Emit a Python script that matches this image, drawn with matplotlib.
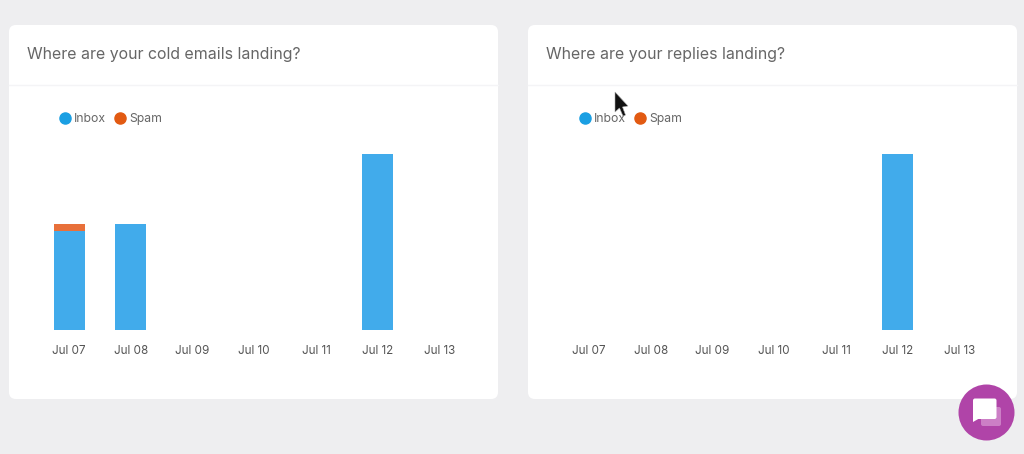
import matplotlib
matplotlib.use("Agg")
import matplotlib.pyplot as plt
from matplotlib.lines import Line2D
from matplotlib.patches import Circle, FancyBboxPatch, Polygon

plt.rcParams['font.family'] = ['Inter', 'DejaVu Sans']

days = ["Jul 07", "Jul 08", "Jul 09", "Jul 10", "Jul 11", "Jul 12", "Jul 13"]
cold_inbox = [2.8, 3.0, 0, 0, 0, 5.0, 0]
cold_spam = [0.2, 0, 0, 0, 0, 0, 0]
reply_inbox = [0, 0, 0, 0, 0, 5.0, 0]
reply_spam = [0, 0, 0, 0, 0, 0, 0]
titles = ["Where are your cold emails landing?", "Where are your replies landing?"]

W, H = 1024, 454
BAR_BLUE = "#41ABEB"
BAR_ORANGE = "#E8703A"
DOT_BLUE = "#1A9FE3"
DOT_ORANGE = "#E25A12"

fig = plt.figure(figsize=(W / 100, H / 100), dpi=100, facecolor="#EEEEF0")

# page furniture is drawn in pixel coords
bg = fig.add_axes([0, 0, 1, 1])
bg.set_xlim(0, W)
bg.set_ylim(H, 0)
bg.axis("off")


def card(x0, x1, title):
    bg.add_patch(FancyBboxPatch((x0 + 6, 31), x1 - x0 - 12, 362,
                                boxstyle="round,pad=6,rounding_size=7",
                                fc="white", ec="none", zorder=1))
    bg.plot([x0, x1], [85, 85], color="#F4F4F6", lw=1, zorder=2)
    bg.text(x0 + 18, 54.5, title, fontsize=11.45, color="#666666",
            va="center", ha="left", zorder=3)


def chart(left_px, inbox, spam):
    # about 432 px wide, baseline at y=330, top of tallest bar at y=154
    ax = fig.add_axes([(left_px + 0.25) / W, (H - 330) / H, 432 / W, 176 / H])
    ax.patch.set_alpha(0)
    ax.bar(days, inbox, width=0.5, color=BAR_BLUE)
    ax.bar(days, spam, width=0.5, bottom=inbox, color=BAR_ORANGE)
    ax.set_xlim(-0.5, 6.5)
    ax.set_ylim(0, 5)
    ax.set_yticks([])
    for s in ax.spines.values():
        s.set_visible(False)
    ax.tick_params(axis="x", length=0, pad=10.5, labelsize=8.4, labelcolor="#555555")
    handles = [
        Line2D([], [], ls="", marker="o", ms=8, color=DOT_BLUE, label="Inbox"),
        Line2D([], [], ls="", marker="o", ms=8, color=DOT_ORANGE, label="Spam"),
    ]
    ax.legend(handles=handles, loc="center left", frameon=False, ncols=2,
              bbox_to_anchor=((left_px + 15) / W, (H - 119) / H),
              bbox_transform=fig.transFigure, fontsize=8.8, labelcolor="#666666",
              handletextpad=-0.3, columnspacing=0.2, borderaxespad=0, borderpad=0)
    return ax


card(9, 498, titles[0])
card(528, 1017, titles[1])
chart(38, cold_inbox, cold_spam)
chart(558, reply_inbox, reply_spam)

# mouse pointer
bg.add_patch(Polygon([(615, 92), (615, 112), (619.5, 108), (623, 116), (625.5, 115),
                      (622.5, 107), (628, 106)], closed=True, fc="#111111", ec="#AAAAAA",
                     lw=0.4, zorder=6))

# chat widget
bg.add_patch(Circle((986.5, 412.5), 28, fc="#B044A8", ec="none", zorder=6))
bg.add_patch(FancyBboxPatch((982, 408), 18, 17, boxstyle="round,pad=1,rounding_size=2",
                            fc="#CC7FC6", ec="none", zorder=7))
bg.add_patch(FancyBboxPatch((974.5, 400), 20.5, 17.5, boxstyle="round,pad=1.5,rounding_size=2",
                            fc="white", ec="none", zorder=8))
bg.add_patch(Polygon([(973, 415), (973, 422), (980, 418)], closed=True, fc="white",
                     ec="none", zorder=8))

fig.savefig("out.png", dpi=100, facecolor=fig.get_facecolor())
